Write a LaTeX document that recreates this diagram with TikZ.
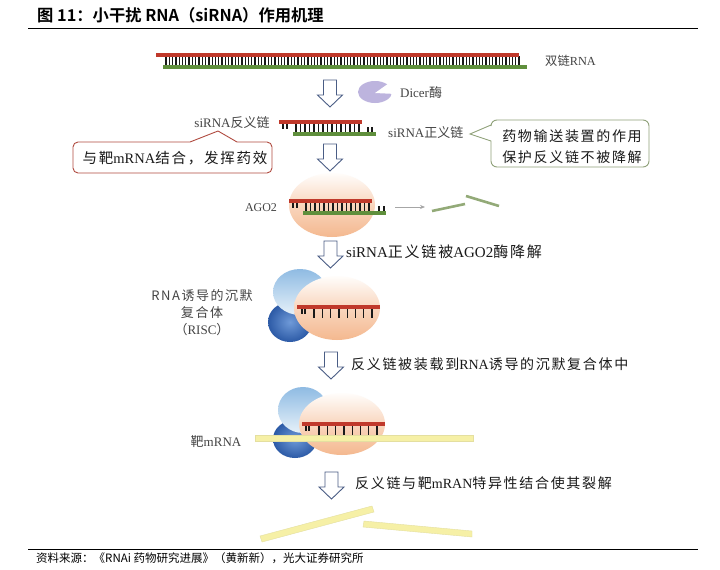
\documentclass[tikz,border=0pt]{standalone}
\usepackage{fontspec}
\setmainfont{Liberation Serif}
\newfontfamily\cjk{Noto Sans CJK SC}
\newfontfamily\cjkw[LetterSpace=12]{Noto Sans CJK SC}
\newfontfamily\cjkb{Noto Sans CJK SC Bold}
\newcommand{\cn}[1]{{\cjk #1}}
\newcommand{\cw}[1]{{\cjkw #1}}
\usetikzlibrary{arrows.meta,shapes.geometric,calc}
\definecolor{rnared}{HTML}{C0392B}
\definecolor{rnagreen}{HTML}{5F8F3C}
\definecolor{arrowblue}{HTML}{4A5D85}
\definecolor{txtgray}{HTML}{444444}
\definecolor{mrna}{HTML}{F6F0A6}
\definecolor{fragm}{HTML}{93AA78}
\definecolor{peachtop}{HTML}{FFFDFB}
\definecolor{peachmid}{HTML}{F9D6BE}
\definecolor{peachbot}{HTML}{F4B88F}
\definecolor{skytop}{HTML}{8FBBE3}
\definecolor{skybot}{HTML}{E6F1F9}
\definecolor{deepin}{HTML}{6F9AD8}
\definecolor{deepout}{HTML}{2C5AA6}
\definecolor{dicerfill}{HTML}{BDB4DE}
\tikzset{
  redstrand/.style={draw=rnared,line width=3.2pt},
  greenstrand/.style={draw=rnagreen,line width=3.2pt},
  tick/.style={draw=black!90,line width=1.3pt},
  downblock/.style={draw=arrowblue,line width=0.9pt,fill=white,line join=miter},
  lab/.style={text=txtgray,font=\fontsize{13}{16}\selectfont,inner sep=0pt,align=center},
  act/.style={text=black!90,font=\fontsize{14}{17}\selectfont,inner sep=0pt,anchor=west},
  peach/.style={top color=peachtop,bottom color=peachbot,middle color=peachmid},
  sky/.style={top color=skytop,bottom color=skybot},
  deep/.style={inner color=deepin,outer color=deepout},
  yellowbar/.style={draw=mrna!85!gray,line width=0.4pt,fill=mrna},
}
\newcommand{\downarr}[2]{% x, top y
  \draw[downblock] (#1-6.5,#2) -- (#1+6.5,#2) -- (#1+6.5,#2+15) -- (#1+12.5,#2+15) -- (#1,#2+27) -- (#1-12.5,#2+15) -- (#1-6.5,#2+15) -- cycle;}
\begin{document}
\begin{tikzpicture}[x=1pt,y=-1pt]
\useasboundingbox (0,0) rectangle (720,570);
\fill[white] (0,0) rectangle (720,570);
% header and footer
\node[anchor=west,inner sep=0pt,font=\fontsize{16.3}{18}\selectfont] (title) at (37,15) {{\cjkb 图 11：小干扰 RNA（siRNA）作用机理}};
\draw[black,line width=0.8pt] (28,28) -- (698,28);
\draw[black,line width=0.8pt] (28,549) -- (698,549);
\node[anchor=west,inner sep=0pt,font=\fontsize{11.5}{14}\selectfont] (source) at (36,558) {\cn{资料来源：《RNAi 药物研究进展》（黄新新），光大证券研究所}};
% long duplex
\foreach \x in {166,169.3,...,522} \draw[tick] (\x,56) -- (\x,66);
\draw[redstrand] (156,55) -- (519,55);
\draw[greenstrand] (163,67) -- (527,67);
\node[lab,anchor=west,font=\fontsize{12.3}{14}\selectfont] (dsrna) at (545,61) {\cn{双链}RNA};
% arrow 1 + Dicer
\downarr{330}{80}
\fill[dicerfill] (375,92) ellipse [x radius=17,y radius=11];
\fill[white] (375,93) -- (392,81) -- (396,94) -- cycle;
\node[lab,anchor=west] (dicer) at (400,93) {Dicer\cn{酶}};
% siRNA
\foreach \x in {283,287} \draw[tick] (\x,123) -- (\x,129);
\foreach \x in {296,300.5,...,360} \draw[tick] (\x,123) -- (\x,133);
\foreach \x in {368,372} \draw[tick] (\x,127) -- (\x,133);
\draw[redstrand] (279,122) -- (362,122);
\draw[greenstrand] (293,134) -- (376,134);
\node[lab] (anti) at (232,123) {siRNA\cn{反义链}};
\node[lab,anchor=west] (sense) at (388,133) {siRNA\cn{正义链}};
% red callout
\draw[draw=rnared!75!gray,line width=0.9pt,fill=white,rounded corners=5pt]
  (73,158) -- (73,142) -- (150,142) [sharp corners] -- (190,142) -- (218,131) -- (237,142) -- (255,142) [rounded corners=5pt] -- (272,142) -- (272,173) -- (73,173) -- cycle;
\node[inner sep=0pt,font=\fontsize{14.5}{17}\selectfont,text=black!90] (bind) at (175,158) {\cw{与靶}mRNA\cw{结合，发挥药效}};
% green callout
\draw[draw=fragm!80!gray,line width=0.9pt,fill=white,rounded corners=6pt]
  (491,120) -- (649,120) -- (649,167) -- (491,167) -- (491,155) [sharp corners] -- (491,141) -- (470,134) -- (491,125) [rounded corners=6pt] -- cycle;
\node[inner sep=0pt,font=\fontsize{14}{21}\selectfont,text=black!90,align=center] (deliv) at (572,146.5) {\cw{药物输送装置的作用}\\\cw{保护反义链不被降解}};
% arrow 2 + AGO2
\downarr{330}{144}
\shade[peach] (332,205) ellipse [x radius=43,y radius=32];
\foreach \x in {293,297} \draw[tick] (\x,202) -- (\x,208);
\foreach \x in {306,310.5,...,369} \draw[tick] (\x,202) -- (\x,212);
\foreach \x in {379,384} \draw[tick] (\x,206) -- (\x,212);
\draw[redstrand] (289,201) -- (372,201);
\draw[greenstrand] (303,213) -- (386,213);
\node[lab,font=\fontsize{12}{15}\selectfont] (ago) at (261,208) {AGO2};
\coordinate (gs) at (395,207);
\coordinate (ge) at (425,207);
\draw[gray!70,line width=0.7pt,-{Stealth[length=5pt,width=4pt]}] (gs) -- (ge);
\draw[fragm,line width=2.6pt] (432,211) -- (465,204);
\draw[fragm,line width=2.6pt] (466,196) -- (499,206);
% arrow 3
\downarr{330.5}{241}
\node[act,font=\fontsize{15}{17}\selectfont] (t3) at (346,252) {siRNA\cw{正义链被}AGO2\cw{酶降解}};
% RISC
\shade[deep] (290,322) ellipse [x radius=22,y radius=20];
\shade[sky] (300,292) ellipse [x radius=27,y radius=23];
\shade[peach] (337,308) ellipse [x radius=43,y radius=32];
\foreach \x in {302,305} \draw[tick] (\x,308) -- (\x,314);
\foreach \x in {314,322.3,...,373} \draw[tick] (\x,308) -- (\x,318);
\draw[redstrand] (297,307) -- (380,307);
\node[lab] (risc) at (202,313) {\cw{RNA诱导的沉默}\\[1pt]\cw{复合体}\\[1pt]\cn{（}RISC\cn{）}};
% arrow 4
\downarr{331}{352}
\node[act] (t4) at (351,364) {\cw{反义链被装载到}RNA\cw{诱导的沉默复合体中}};
% target complex
\shade[deep] (295,439) ellipse [x radius=22,y radius=19];
\shade[sky] (303,410) ellipse [x radius=25,y radius=23];
\shade[peach] (342,424) ellipse [x radius=43,y radius=31];
\foreach \x in {306,309} \draw[tick] (\x,425) -- (\x,431);
\foreach \x in {319,327.3,...,378} \draw[tick] (\x,425) -- (\x,435);
\draw[redstrand] (302,424) -- (385,424);
\fill[yellowbar] (255,435.5) rectangle (473,441.5);
\node[lab] (tgt) at (216,442) {\cn{靶}mRNA};
% arrow 5
\downarr{331.5}{472}
\node[act] (t5) at (355,483) {\cw{反义链与靶}mRAN\cw{特异性结合使其裂解}};
% fragments
\fill[yellowbar] (260,536) -- (372,506) -- (374,512) -- (262,542) -- cycle;
\fill[yellowbar] (364,521) -- (472,531) -- (472,537) -- (363,527) -- cycle;
\end{tikzpicture}
\end{document}
